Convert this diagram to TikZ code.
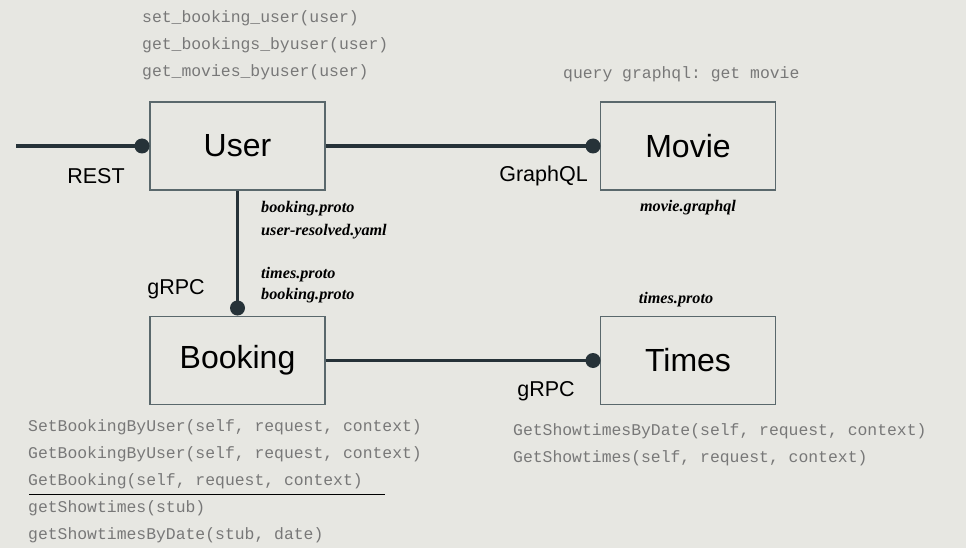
\documentclass[tikz,border=0pt]{standalone}
\usepackage{fontspec}
\setmainfont{Liberation Sans}
\setmonofont{Liberation Mono}
\newfontfamily\filefont{Liberation Serif}
\usetikzlibrary{positioning}
\definecolor{bgcol}{RGB}{231,231,226}
\definecolor{linecol}{RGB}{38,50,56}
\definecolor{boxcol}{RGB}{90,104,108}
\definecolor{codecol}{RGB}{120,120,120}

\begin{document}
\begin{tikzpicture}[
        x=1pt, y=-1pt,
        service/.style={
            draw=boxcol,
            line width=1.3pt,
            minimum width=175pt,
            minimum height=88pt,
            inner sep=0pt,
            font=\fontsize{32}{36}\selectfont,},
        link/.style={
            draw=linecol,
            line width=3.5pt,},
        dot/.style={circle, fill=linecol, inner sep=0pt, minimum size=15pt},
        proto/.style={font=\fontsize{21.5}{24}\selectfont},
        code/.style={anchor=west, inner sep=0pt, text=codecol,
            font=\ttfamily\fontsize{16.4}{18}\selectfont},
        file/.style={anchor=west, inner sep=0pt,
            font=\filefont\bfseries\itshape\fontsize{16.2}{18}\selectfont}
        ]

        \fill[bgcol] (0,0) rectangle (966,548);

        \node[service] (user) at (237.5,146) {User};
        \node[service] (movie) at (688,146) {Movie};
        \node[service] (booking) at (237.5,360.5) {Booking};
        \node[service] (times) at (688,360.5) {Times};

        \coordinate (restin) at (16,146);
        \draw[link] (restin) -- (142,146) node[dot] (restdot) {};
        \draw[link] (user.east) -- (593,146) node[dot] (moviedot) {};
        \draw[link] (user.south) -- (237.5,308) node[dot] (bookingdot) {};
        \draw[link] (booking.east) -- (593,360.5) node[dot] (timesdot) {};

        \node[proto] (rest) at (96,176) {REST};
        \node[proto] (graphql) at (543.5,176) {GraphQL};
        \node[proto] (grpcuser) at (176,289) {gRPC};
        \node[proto] (grpctimes) at (546,391) {gRPC};

        % user resolvers
        \node[code] (setbookinguser) at (142,18) {set\_booking\_user(user)};
        \node[code] (getbookingsbyuser) at (142,45) {get\_bookings\_byuser(user)};
        \node[code] (getmoviesbyuser) at (142,72) {get\_movies\_byuser(user)};

        \node[code] (querymovie) at (563,74) {query graphql: get movie};

        % proto and schema files
        \node[file] (userproto) at (261,209) {booking.proto};
        \node[file] (useryaml) at (261,232) {user-resolved.yaml};
        \node[file] (bookingtimesproto) at (261,275) {times.proto};
        \node[file] (bookingproto) at (261,296) {booking.proto};
        \node[file, anchor=center] (moviegraphql) at (688,208) {movie.graphql};
        \node[file, anchor=center] (timesproto) at (676,300) {times.proto};

        % booking servicer and stubs
        \node[code] (setbookingbyuser) at (28,427) {SetBookingByUser(self, request, context)};
        \node[code] (getbookingbyuser) at (28,454) {GetBookingByUser(self, request, context)};
        \node[code] (getbooking) at (28,481) {GetBooking(self, request, context)};
        \draw[line width=1pt] (29,494) -- (385,494);
        \node[code] (getshowtimesstub) at (28,508) {getShowtimes(stub)};
        \node[code] (getshowtimesbydatestub) at (28,535) {getShowtimesByDate(stub, date)};

        % times servicer
        \node[code] (getshowtimesbydate) at (513,431) {GetShowtimesByDate(self, request, context)};
        \node[code] (getshowtimes) at (513,458) {GetShowtimes(self, request, context)};

    \end{tikzpicture}
\end{document}
